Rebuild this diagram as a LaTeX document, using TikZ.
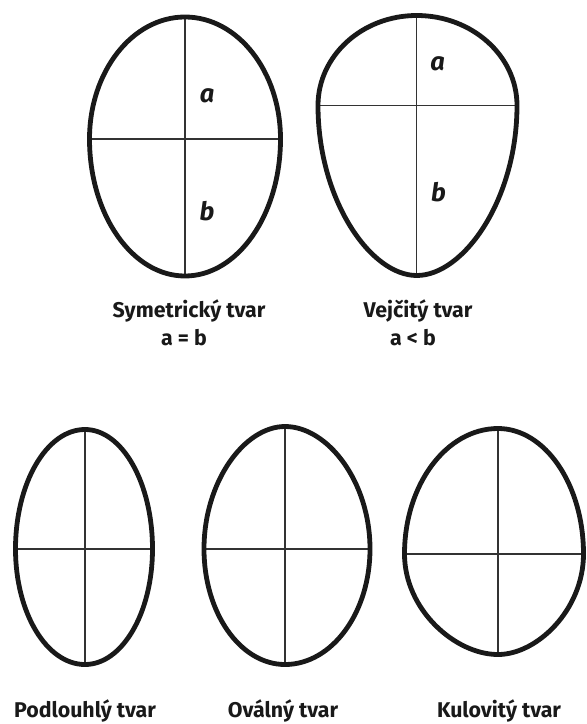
\documentclass[tikz,border=0pt]{standalone}
\usepackage{fontspec}
\setmainfont{Fira Sans}
\usepackage{tikz}
\usetikzlibrary{calc,positioning}
\tikzset{eggline/.style={line width=3.6pt, draw=black!90, line join=round}}
\tikzset{crossline/.style={line width=0.9pt, draw=black!80}}
\tikzset{caption/.style={font=\fontsize{16}{18}\selectfont\bfseries, anchor=base, inner sep=0pt, text=black!90}}
\tikzset{axislabel/.style={font=\fontsize{19}{22}\selectfont\bfseries\itshape, anchor=base, inner sep=0pt, text=black!90}}

\begin{document}
\begin{tikzpicture}[x=0.75pt, y=-0.75pt]
  \useasboundingbox (0,0) rectangle (586,724);
  \clip (0,0) rectangle (586,724);
  % name / centre / half widths / top, bottom / roundness of top and bottom
  \foreach \n/\cx/\cy/\wl/\wr/\a/\b/\kt/\kb in {
      sym/185/139/95.5/95.5/122/137/0.5523/0.5523,
      vej/416.7/105.5/98.7/100.3/90/170/0.5523/0.47,
      pod/85/549/69.5/67.5/119.5/115.5/0.5523/0.5523,
      ova/285/549/81/85/122.5/115.5/0.5/0.5523,
      kul/498/554/93.5/85.5/125.5/100.5/0.5523/0.46}
  {
    \coordinate (\n-t) at (\cx,\cy-\a);
    \coordinate (\n-b) at (\cx,\cy+\b);
    \coordinate (\n-l) at (\cx-\wl,\cy);
    \coordinate (\n-r) at (\cx+\wr,\cy);
    \draw[crossline] (\n-t) -- (\n-b) (\n-l) -- (\n-r);
    \draw[eggline] (\n-l) .. controls +(0,-0.5523*\a) and +(-\kt*\wl,0) .. (\n-t)
      .. controls +(\kt*\wr,0) and +(0,-0.5523*\a) .. (\n-r)
      .. controls +(0,0.5523*\b) and +(\kb*\wr,0) .. (\n-b)
      .. controls +(-\kb*\wl,0) and +(0,0.5523*\b) .. (\n-l) -- cycle;
  }
  \node[axislabel] (sym-a) at (207,103) {a};
  \node[axislabel] (sym-b) at (207,220) {b};
  \node[axislabel] (vej-a) at (437.5,70.7) {a};
  \node[axislabel] (vej-b) at (438.5,201.7) {b};

  \node[caption] (sym-name) at (189,317) {Symetrický tvar};
  \node[caption] (sym-rel) at (184,345) {a = b};
  \node[caption] (vej-name) at (418,317) {Vejčitý tvar};
  \node[caption] (vej-rel) at (413,345) {a < b};
  \node[caption] (pod-name) at (85,717) {Podlouhlý tvar};
  \node[caption] (ova-name) at (283,717) {Oválný tvar};
  \node[caption] (kul-name) at (499,717) {Kulovitý tvar};
\end{tikzpicture}
\end{document}
